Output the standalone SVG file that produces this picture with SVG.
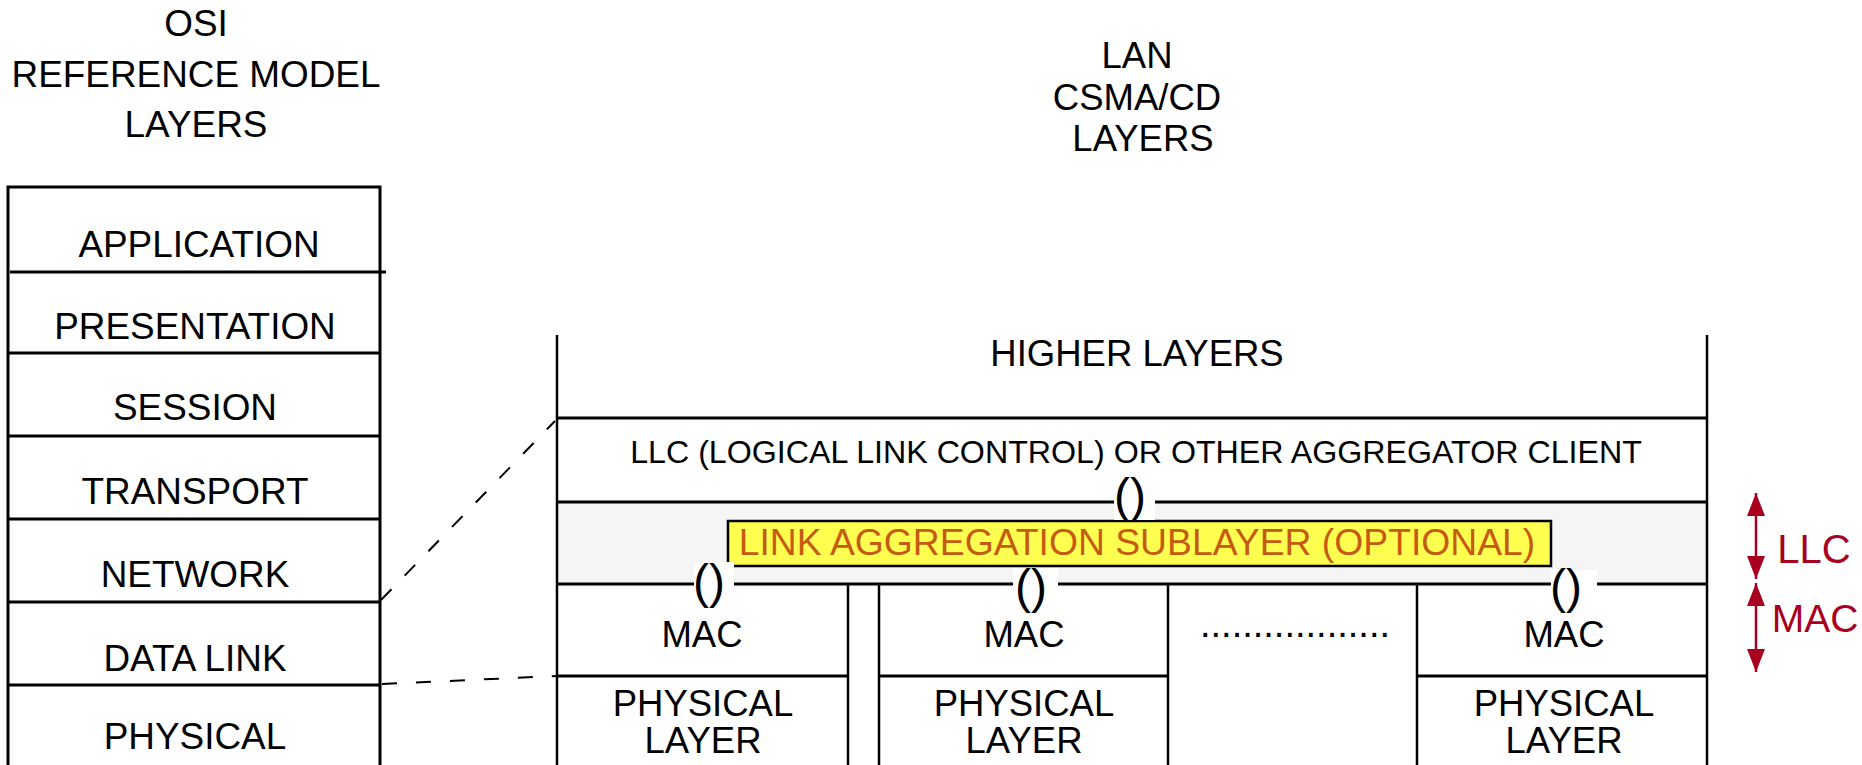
<svg xmlns="http://www.w3.org/2000/svg" width="1862" height="765" viewBox="0 0 1862 765">
<style>
text{font-family:"Liberation Sans",Arial,sans-serif;fill:#000;text-anchor:middle}
.t36{font-size:36.5px}
.o36{font-size:36.9px}
.t32{font-size:32.2px}
.ln{stroke:#000;stroke-width:3;fill:none}
.lv{stroke:#000;stroke-width:2.5;fill:none}
.dash{stroke:#000;stroke-width:2;fill:none;stroke-dasharray:15 19}
.redl{stroke:#A8001E;stroke-width:2.5;fill:none}
.paren{font-size:48px}
</style>
<defs>
<marker id="ah" viewBox="0 0 23 18" refX="23" refY="9" markerWidth="23" markerHeight="18" markerUnits="userSpaceOnUse" orient="auto-start-reverse">
<path d="M0,0 L23,9 L0,18 z" fill="#A8001E"/>
</marker>
</defs>
<rect width="1862" height="765" fill="#fff"/>

<g id="osi-title">
<text class="o36" x="196" y="36">OSI</text>
<text class="o36" x="196" y="87">REFERENCE MODEL</text>
<text class="o36" x="196" y="137">LAYERS</text>
</g>

<g id="osi-stack">
<path class="ln" d="M8,770 V187 H380 V770"/>
<line class="ln" x1="10" y1="272" x2="386" y2="272"/>
<line class="ln" x1="8" y1="353" x2="380" y2="353"/>
<line class="ln" x1="8" y1="436" x2="380" y2="436"/>
<line class="ln" x1="8" y1="519" x2="380" y2="519"/>
<line class="ln" x1="8" y1="602" x2="380" y2="602"/>
<line class="ln" x1="8" y1="685" x2="380" y2="685"/>
</g>
<g id="osi-application"><text class="o36" x="199" y="257">APPLICATION</text></g>
<g id="osi-presentation"><text class="o36" x="195" y="339">PRESENTATION</text></g>
<g id="osi-session"><text class="o36" x="195" y="420">SESSION</text></g>
<g id="osi-transport"><text class="o36" x="195" y="504">TRANSPORT</text></g>
<g id="osi-network"><text class="o36" x="195" y="587">NETWORK</text></g>
<g id="osi-datalink"><text class="o36" x="195" y="671">DATA LINK</text></g>
<g id="osi-physical"><text class="o36" x="195" y="749">PHYSICAL</text></g>

<g id="lan-title">
<text class="t36" x="1137" y="68">LAN</text>
<text class="t36" x="1137" y="110">CSMA/CD</text>
<text class="t36" x="1143" y="151">LAYERS</text>
</g>

<g id="lan-frame">
<rect x="557" y="502" width="1150" height="82" fill="#F5F5F5"/>
<line class="lv" x1="557" y1="335" x2="557" y2="770"/>
<line class="lv" x1="1707" y1="335" x2="1707" y2="770"/>
<line class="ln" x1="557" y1="418" x2="1707" y2="418"/>
<line class="ln" x1="557" y1="502" x2="1707" y2="502"/>
<line class="ln" x1="557" y1="584" x2="1707" y2="584"/>
<line class="lv" x1="848" y1="584" x2="848" y2="770"/>
<line class="lv" x1="879" y1="584" x2="879" y2="770"/>
<line class="lv" x1="1168" y1="584" x2="1168" y2="770"/>
<line class="lv" x1="1417" y1="584" x2="1417" y2="770"/>
<line class="ln" x1="557" y1="676" x2="848" y2="676"/>
<line class="ln" x1="879" y1="676" x2="1168" y2="676"/>
<line class="ln" x1="1417" y1="676" x2="1707" y2="676"/>
</g>

<g id="higher-layers"><text class="t36" x="1137" y="366">HIGHER LAYERS</text></g>
<g id="llc-client"><text class="t32" x="1136" y="463">LLC (LOGICAL LINK CONTROL) OR OTHER AGGREGATOR CLIENT</text></g>

<g id="link-aggregation">
<rect x="728" y="521" width="823" height="45" fill="#FFFF50" stroke="#000" stroke-width="2.5"/>
<text x="1137" y="555" style="font-size:37.3px;fill:#C55A11">LINK AGGREGATION SUBLAYER (OPTIONAL)</text>
</g>

<g id="sap-top">
<rect x="1114" y="495" width="41" height="25" fill="#fff"/>
<text class="paren" x="1130" y="512">()</text>
</g>
<g id="sap-mac1">
<rect x="694" y="562" width="40" height="25" fill="#fff"/>
<text class="paren" x="709" y="598">()</text>
</g>
<g id="sap-mac2">
<rect x="1013" y="568" width="45" height="19" fill="#fff"/>
<text class="paren" x="1031" y="603">()</text>
</g>
<g id="sap-mac3">
<rect x="1551" y="570" width="46" height="17" fill="#fff"/>
<text class="paren" x="1566" y="603">()</text>
</g>

<g id="mac1">
<text class="t36" x="702" y="647">MAC</text>
<text class="t36" x="703" y="716">PHYSICAL</text>
<text class="t36" x="703" y="753">LAYER</text>
</g>
<g id="mac2">
<text class="t36" x="1024" y="647">MAC</text>
<text class="t36" x="1024" y="716">PHYSICAL</text>
<text class="t36" x="1024" y="753">LAYER</text>
</g>
<g id="dots"><text x="1295" y="637" style="font-size:38px">..................</text></g>
<g id="mac3">
<text class="t36" x="1564" y="647">MAC</text>
<text class="t36" x="1564" y="716">PHYSICAL</text>
<text class="t36" x="1564" y="753">LAYER</text>
</g>

<g id="llc-label"><text x="1814" y="563" style="font-size:40px;fill:#A8001E">LLC</text></g>
<g id="mac-label"><text x="1815" y="632" style="font-size:39px;fill:#A8001E">MAC</text></g>

<g id="connectors">
<line class="dash" x1="381" y1="600" x2="555" y2="421"/>
<line class="dash" x1="382" y1="684" x2="557" y2="676"/>
<line class="redl" x1="1756" y1="493" x2="1756" y2="579" marker-start="url(#ah)" marker-end="url(#ah)"/>
<line class="redl" x1="1756" y1="583" x2="1756" y2="672" marker-start="url(#ah)" marker-end="url(#ah)"/>
</g>
</svg>
